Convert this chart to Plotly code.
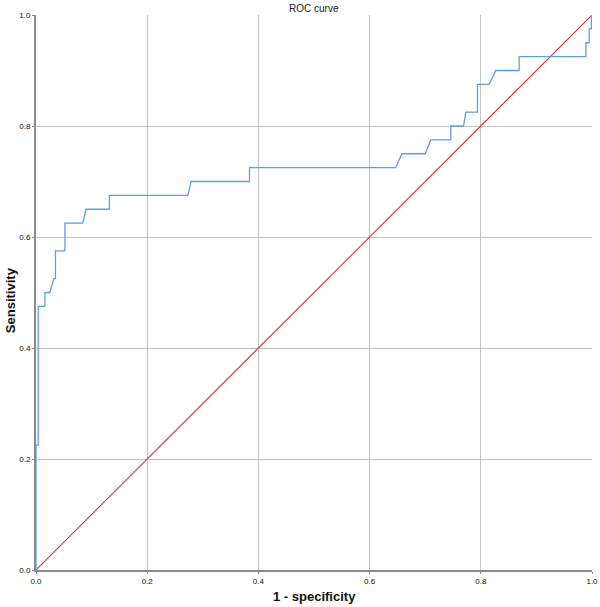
import plotly.graph_objects as go

# ROC curve points (1 - specificity, sensitivity)
fpr = [0.0, 0.0, 0.004, 0.004, 0.016, 0.016, 0.025, 0.032, 0.035, 0.035, 0.052, 0.052,
       0.084, 0.090, 0.132, 0.132, 0.273, 0.279, 0.384, 0.384, 0.647, 0.658, 0.700, 0.710,
       0.746, 0.746, 0.769, 0.773, 0.794, 0.794, 0.815, 0.827, 0.869, 0.869, 0.989, 0.989,
       0.995, 0.995, 0.999, 0.999]
tpr = [0.0, 0.225, 0.225, 0.475, 0.475, 0.500, 0.500, 0.525, 0.525, 0.575, 0.575, 0.625,
       0.625, 0.650, 0.650, 0.675, 0.675, 0.700, 0.700, 0.725, 0.725, 0.750, 0.750, 0.775,
       0.775, 0.800, 0.800, 0.825, 0.825, 0.875, 0.875, 0.900, 0.900, 0.925, 0.925, 0.950,
       0.950, 0.975, 0.975, 1.0]
ref_x = [0.0, 1.0]
ref_y = [0.0, 1.0]
tick_vals = [0.0, 0.2, 0.4, 0.6, 0.8, 1.0]
tick_text = ["0.0", "0.2", "0.4", "0.6", "0.8", "1.0"]

fig = go.Figure()
fig.add_trace(go.Scatter(x=ref_x, y=ref_y, mode="lines",
                         line=dict(color="#e8323c", width=1.1), showlegend=False))
fig.add_trace(go.Scatter(x=fpr, y=tpr, mode="lines",
                         line=dict(color="#5e9ef0", width=1.3), showlegend=False))

font_family = "Arial, Liberation Sans, sans-serif"
fig.update_layout(
    width=600, height=607,
    margin=dict(l=36, r=8, t=15, b=37, autoexpand=False),
    paper_bgcolor="white", plot_bgcolor="white",
    font=dict(family=font_family, color="#222222"),
    title=dict(text="ROC curve", x=0.523, xanchor="center", y=0.9868, yanchor="middle",
               font=dict(size=10, color="#222222")),
    annotations=[
        dict(text="<b>1 - specificity</b>", xref="paper", yref="paper",
             x=0.5, y=-0.0486, xanchor="center", yanchor="middle", showarrow=False,
             font=dict(size=13, color="#111111")),
        dict(text="<b>Sensitivity</b>", xref="paper", yref="paper", textangle=-90,
             x=-0.047, y=0.486, xanchor="center", yanchor="middle", showarrow=False,
             font=dict(size=13, color="#111111")),
    ],
)
fig.update_xaxes(range=[0, 1], tickvals=tick_vals, ticktext=tick_text, automargin=False,
                 showgrid=True, gridcolor="#c4c4c4", gridwidth=1,
                 showline=True, linecolor="#8a8a8a", linewidth=2,
                 ticks="outside", ticklen=2, tickcolor="#8a8a8a",
                 tickfont=dict(size=8, color="#111111"), zeroline=False)
fig.update_yaxes(range=[0, 1], tickvals=tick_vals, ticktext=tick_text, automargin=False,
                 showgrid=True, gridcolor="#c4c4c4", gridwidth=1,
                 showline=True, linecolor="#8a8a8a", linewidth=2,
                 ticks="outside", ticklen=2, tickcolor="#8a8a8a",
                 tickfont=dict(size=8, color="#111111"), zeroline=False)

fig.write_html("out.html", config={"displayModeBar": False},
               post_script="document.body.style.margin='0';")
